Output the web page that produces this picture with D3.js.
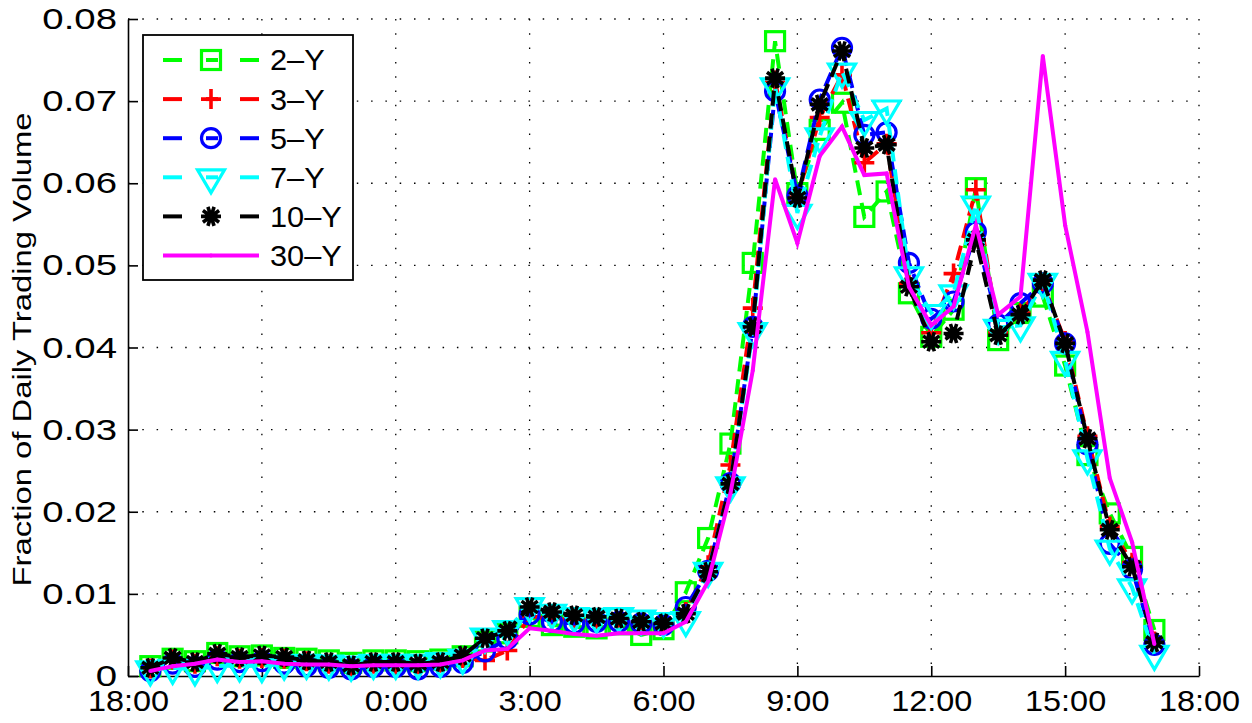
<!DOCTYPE html>
<html>
<head>
<meta charset="utf-8">
<script src="https://cdn.jsdelivr.net/npm/d3@7"></script>
<style>
  html, body { margin: 0; padding: 0; background: #fff; }
  svg { display: block; font-family: "Liberation Sans", Arial, sans-serif; }
</style>
</head>
<body>
<div id="chart"></div>
<script>
// half-hour bins, hours after 18:00 (18:30 ... 17:00)
const hours = d3.range(1, 47).map(k => k / 2);

const xTickHours = [0, 3, 6, 9, 12, 15, 18, 21, 24];
const xTickLabels = ['18:00', '21:00', '0:00', '3:00', '6:00', '9:00', '12:00', '15:00', '18:00'];
const yTicks = [0, 0.01, 0.02, 0.03, 0.04, 0.05, 0.06, 0.07, 0.08];
const yTickLabels = ['0', '0.01', '0.02', '0.03', '0.04', '0.05', '0.06', '0.07', '0.08'];

const seriesNames = ['2\u2013Y', '3\u2013Y', '5\u2013Y', '7\u2013Y', '10\u2013Y', '30\u2013Y'];

const y2 = [0.0012, 0.0021, 0.0018, 0.0028, 0.0024, 0.0025, 0.0022, 0.0021, 0.0019, 0.0016, 0.0019, 0.0019,
    0.0018, 0.0020, 0.0024, 0.0042, 0.0052, 0.0072, 0.0062, 0.0060, 0.0058, 0.0063, 0.0050, 0.0057,
    0.0102, 0.0168, 0.0283, 0.0503, 0.0773, 0.0588, 0.0665, 0.0698, 0.0559, 0.0590, 0.0466, 0.0413,
    0.0446, 0.0594, 0.0409, 0.0442, 0.0462, 0.0378, 0.0269, 0.0198, 0.0145, 0.0056];
const y3 = [0.0009, 0.0020, 0.0015, 0.0024, 0.0021, 0.0022, 0.0021, 0.0018, 0.0015, 0.0012, 0.0015, 0.0015,
    0.0014, 0.0016, 0.0022, 0.0019, 0.0031, 0.0072, 0.0070, 0.0068, 0.0068, 0.0067, 0.0065, 0.0062,
    0.0078, 0.0135, 0.0257, 0.0448, 0.0725, 0.0583, 0.0680, 0.0732, 0.0625, 0.0648, 0.0478, 0.0418,
    0.0490, 0.0592, 0.0418, 0.0442, 0.0478, 0.0408, 0.0292, 0.0182, 0.0138, 0.0042];
const y5 = [0.0006, 0.0015, 0.0011, 0.0020, 0.0017, 0.0018, 0.0015, 0.0012, 0.0010, 0.0008, 0.0011, 0.0011,
    0.0008, 0.0011, 0.0016, 0.0030, 0.0045, 0.0075, 0.0066, 0.0064, 0.0066, 0.0066, 0.0064, 0.0062,
    0.0084, 0.0128, 0.0235, 0.0425, 0.0712, 0.0585, 0.0702, 0.0765, 0.0659, 0.0662, 0.0503, 0.0435,
    0.0456, 0.0541, 0.0428, 0.0454, 0.0478, 0.0405, 0.0282, 0.0161, 0.0130, 0.0038];
const y7 = [0.0008, 0.0010, 0.0008, 0.0012, 0.0013, 0.0012, 0.0015, 0.0016, 0.0015, 0.0014, 0.0016, 0.0016,
    0.0016, 0.0018, 0.0022, 0.0048, 0.0057, 0.0085, 0.0077, 0.0073, 0.0072, 0.0073, 0.0070, 0.0067,
    0.0068, 0.0128, 0.0232, 0.0420, 0.0718, 0.0564, 0.0657, 0.0736, 0.0677, 0.0691, 0.0488, 0.0442,
    0.0466, 0.0574, 0.0424, 0.0427, 0.0480, 0.0385, 0.0265, 0.0155, 0.0108, 0.0027];
const y10 = [0.0010, 0.0022, 0.0017, 0.0027, 0.0023, 0.0025, 0.0023, 0.0019, 0.0017, 0.0013, 0.0017, 0.0017,
    0.0015, 0.0017, 0.0025, 0.0046, 0.0055, 0.0084, 0.0078, 0.0074, 0.0072, 0.0070, 0.0066, 0.0064,
    0.0076, 0.0127, 0.0234, 0.0425, 0.0728, 0.0582, 0.0696, 0.0761, 0.0643, 0.0647, 0.0474, 0.0407,
    0.0417, 0.0531, 0.0415, 0.0440, 0.0482, 0.0405, 0.0289, 0.0178, 0.0133, 0.0041];
const y30 = [0.0006, 0.0012, 0.0015, 0.0020, 0.0017, 0.0018, 0.0015, 0.0014, 0.0014, 0.0012, 0.0013, 0.0013,
    0.0013, 0.0014, 0.0019, 0.0031, 0.0033, 0.0058, 0.0055, 0.0051, 0.0049, 0.0052, 0.0052, 0.0052,
    0.0066, 0.0115, 0.0222, 0.0372, 0.0605, 0.0527, 0.0633, 0.0669, 0.0610, 0.0612, 0.0474, 0.0427,
    0.0450, 0.0549, 0.0440, 0.0462, 0.0755, 0.0549, 0.0419, 0.0241, 0.0163, 0.0039];

const series = [
    {name: seriesNames[0], values: y2, color: '#00ff00', marker: 'square', dashed: true},
    {name: seriesNames[1], values: y3, color: '#ff0000', marker: 'plus', dashed: true},
    {name: seriesNames[2], values: y5, color: '#0000ff', marker: 'circle', dashed: true},
    {name: seriesNames[3], values: y7, color: '#00ffff', marker: 'tri', dashed: true},
    {name: seriesNames[4], values: y10, color: '#000000', marker: 'star', dashed: true},
    {name: seriesNames[5], values: y30, color: '#ff00ff', marker: 'dot', dashed: false},
];

const W = 1252, H = 723;
const margin = {top: 19, right: 53, bottom: 47, left: 128};
const cW = W - margin.left - margin.right;
const cH = H - margin.top - margin.bottom;

const svg = d3.select('#chart').append('svg').attr('width', W).attr('height', H);
const g = svg.append('g').attr('transform', `translate(${margin.left},${margin.top})`);

const x = d3.scaleLinear().domain([0, 24]).range([0, cW]);
const y = d3.scaleLinear().domain([0, 0.08]).range([cH, 0]);

// dotted grid
g.append('g').selectAll('line').data(xTickHours.slice(1)).join('line')
    .attr('x1', d => x(d)).attr('x2', d => x(d)).attr('y1', 0).attr('y2', cH)
    .attr('stroke', '#000').attr('stroke-width', 1.3).attr('stroke-dasharray', '1.5 12.8');
g.append('g').selectAll('line').data(yTicks.slice(1)).join('line')
    .attr('x1', 0).attr('x2', cW).attr('y1', d => y(d)).attr('y2', d => y(d))
    .attr('stroke', '#000').attr('stroke-width', 1.3).attr('stroke-dasharray', '1.5 12.8');

// axes (MATLAB style, ticks inward, box off)
const xAxis = d3.axisBottom(x).tickValues(xTickHours).tickSizeInner(-10).tickSizeOuter(0)
    .tickPadding(17).tickFormat((d, i) => xTickLabels[i]);
const yAxis = d3.axisLeft(y).tickValues(yTicks).tickSizeInner(-10).tickSizeOuter(0)
    .tickFormat((d, i) => yTickLabels[i]);

g.append('g').attr('transform', `translate(0,${cH})`).call(xAxis)
    .call(a => {
        a.select('.domain').attr('stroke-width', 1.6);
        a.selectAll('line').attr('stroke-width', 1.6);
        a.selectAll('text').attr('font-size', 30).attr('fill', '#000').attr('dy', '0.6em')
            .attr('transform', 'scale(1.08,1)');
    });
g.append('g').call(yAxis)
    .call(a => {
        a.select('.domain').attr('stroke-width', 1.6);
        a.selectAll('line').attr('stroke-width', 1.6);
        a.selectAll('text').attr('font-size', 30).attr('fill', '#000')
            .attr('x', 0).attr('transform', 'translate(-11,0) scale(1.28,1)');
    });

svg.append('text')
    .attr('transform', `translate(31,${margin.top + cH / 2 + 2}) rotate(-90)`)
    .attr('text-anchor', 'middle').attr('font-size', 26).attr('fill', '#000')
    .attr('textLength', 474).attr('lengthAdjust', 'spacingAndGlyphs')
    .text('Fraction of Daily Trading Volume');

// marker drawing
function drawMarker(sel, type, color) {
    const sw = 3.2;
    if (type === 'square') {
        sel.append('rect').attr('x', -9.5).attr('y', -9.5).attr('width', 19).attr('height', 19)
            .attr('fill', 'none').attr('stroke', color).attr('stroke-width', sw);
    } else if (type === 'plus') {
        sel.append('path').attr('d', 'M-10,0H10M0,-10V10')
            .attr('stroke', color).attr('stroke-width', 3.6).attr('fill', 'none');
    } else if (type === 'circle') {
        sel.append('circle').attr('r', 9.5)
            .attr('fill', 'none').attr('stroke', color).attr('stroke-width', sw);
    } else if (type === 'tri') {
        sel.append('path').attr('d', 'M-13.5,-7.5L13.5,-7.5L0,15.5Z')
            .attr('fill', 'none').attr('stroke', color).attr('stroke-width', sw).attr('stroke-linejoin', 'miter');
    } else if (type === 'star') {
        const r = 10;
        const d = d3.range(5).map(k => {
            const a = k * Math.PI / 5;
            return `M${-r * Math.cos(a)},${-r * Math.sin(a)}L${r * Math.cos(a)},${r * Math.sin(a)}`;
        }).join('');
        sel.append('circle').attr('r', 5.5).attr('fill', color);
        sel.append('path').attr('d', d).attr('stroke', color).attr('stroke-width', 3.6).attr('fill', 'none');
    } else if (type === 'dot') {
        sel.append('circle').attr('r', 2).attr('fill', color);
    }
}

const line = d3.line().x((d, i) => x(hours[i])).y(d => y(d));

series.forEach(s => {
    const sg = g.append('g');
    sg.append('path').datum(s.values).attr('d', line)
        .attr('fill', 'none').attr('stroke', s.color).attr('stroke-width', 4)
        .attr('stroke-linejoin', 'miter')
        .attr('stroke-dasharray', s.dashed ? '15 8' : null);
    s.values.forEach((v, i) => {
        const m = sg.append('g').attr('transform', `translate(${x(hours[i])},${y(v)})`);
        drawMarker(m, s.marker, s.color);
    });
});

// legend
const lg = svg.append('g').attr('transform', 'translate(143,35)');
lg.append('rect').attr('width', 210).attr('height', 245)
    .attr('fill', '#fff').attr('stroke', '#000').attr('stroke-width', 1.8);
series.forEach((s, i) => {
    const ry = 25 + i * 39.1;
    const row = lg.append('g').attr('transform', `translate(0,${ry})`);
    if (s.dashed) {
        [[20, 39], [63, 75], [97, 116]].forEach(([a, b]) => {
            row.append('line').attr('x1', a).attr('x2', b).attr('y1', 0).attr('y2', 0)
                .attr('stroke', s.color).attr('stroke-width', 4);
        });
    } else {
        row.append('line').attr('x1', 20).attr('x2', 116).attr('y1', 0).attr('y2', 0)
            .attr('stroke', s.color).attr('stroke-width', 4);
    }
    const m = row.append('g').attr('transform', 'translate(68,0)');
    drawMarker(m, s.marker, s.color);
    row.append('text').attr('x', 0).attr('y', 0).attr('dy', '0.36em')
        .attr('transform', 'translate(127,0) scale(1.06,1)')
        .attr('font-size', 29).attr('fill', '#000').text(s.name);
});
</script>
</body>
</html>
